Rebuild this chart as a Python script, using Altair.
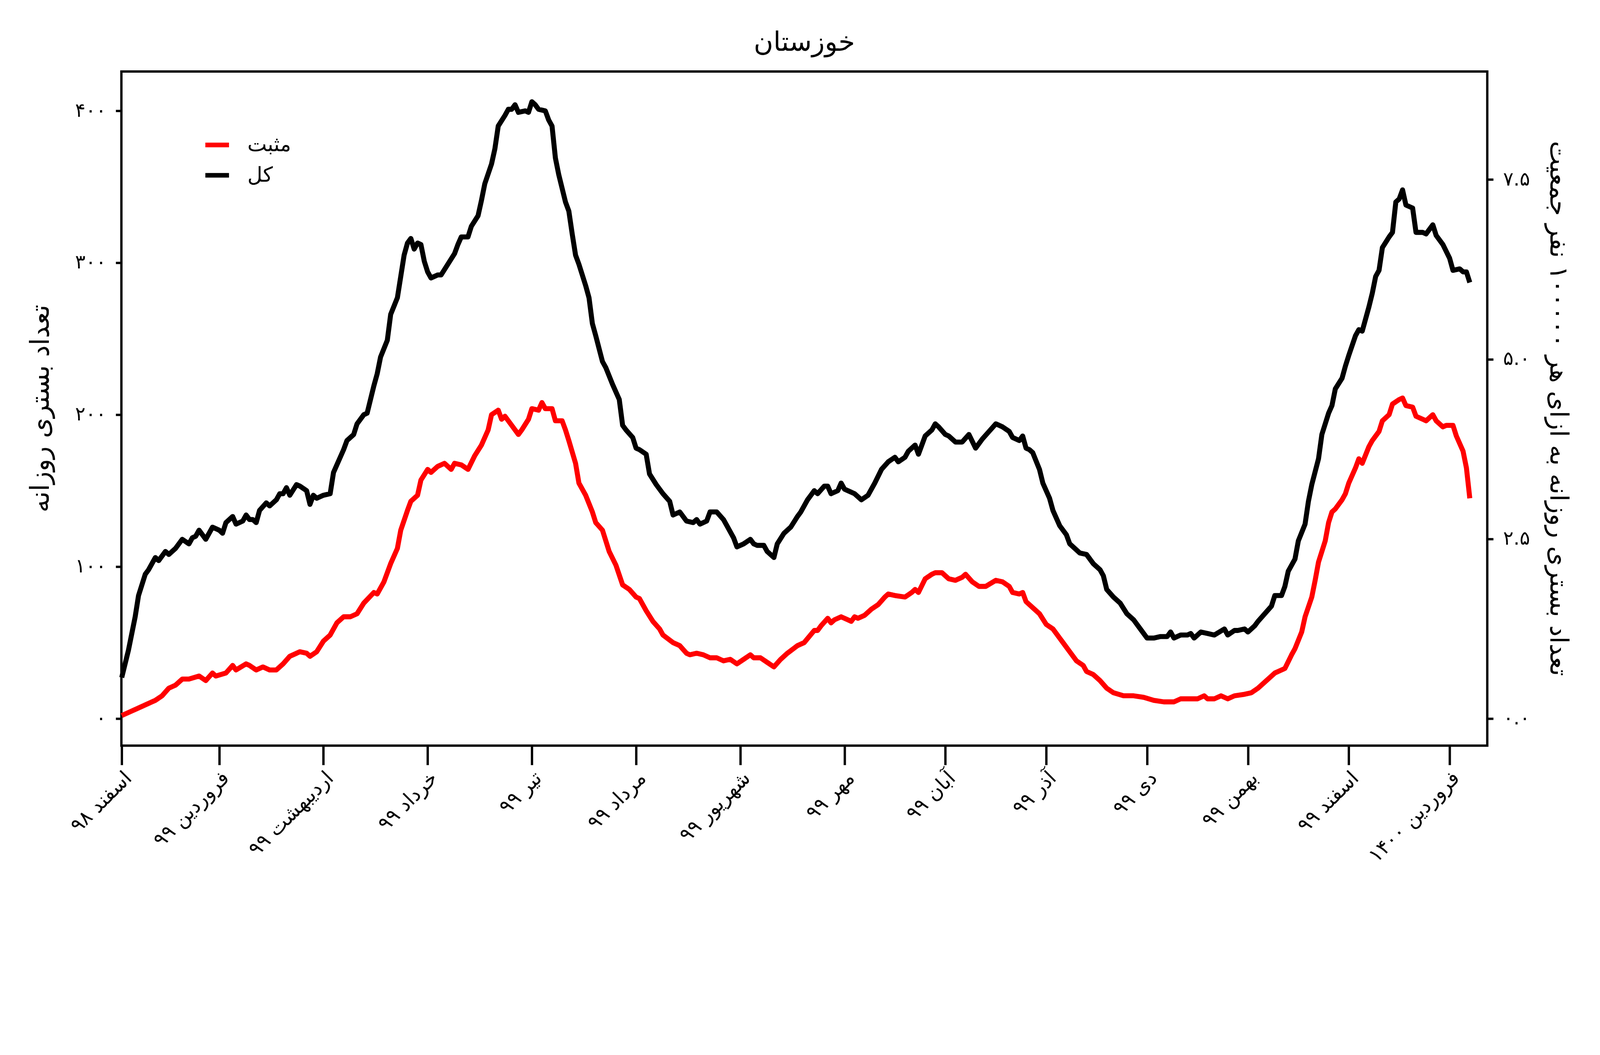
import altair as alt
import pandas as pd

title_text = "خوزستان"
series_names = ["مثبت", "کل"]
series_colors = ["#ff0000", "#000000"]
left_title = "تعداد بستری روزانه"
right_title = "تعداد بستری روزانه به ازای هر ۱۰۰۰۰۰ نفر جمعیت"

# month starts as day offsets from 1 Esfand 1398
month_days = [0, 29, 60, 91, 122, 153, 184, 215, 245, 275, 305, 335, 365, 395]
month_labels = ["اسفند ۹۸", "فروردین ۹۹", "اردیبهشت ۹۹", "خرداد ۹۹", "تیر ۹۹", "مرداد ۹۹",
                "شهریور ۹۹", "مهر ۹۹", "آبان ۹۹", "آذر ۹۹", "دی ۹۹", "بهمن ۹۹",
                "اسفند ۹۹", "فروردین ۱۴۰۰"]

left_ticks = [0, 100, 200, 300, 400]
left_tick_labels = ["۰", "۱۰۰", "۲۰۰", "۳۰۰", "۴۰۰"]
right_ticks = [0, 2.5, 5, 7.5]
right_tick_labels = ["۰.۰", "۲.۵", "۵.۰", "۷.۵"]
population_100k = 47.3

# total hospitalised (کل)
kol_days = [0, 2, 4, 5, 7, 8, 10, 11, 13, 14, 16, 18, 20, 21, 22, 23, 25, 27, 29, 30, 31, 33, 34, 36, 37, 38, 39, 40,
            41, 43, 44, 46, 47, 48, 49, 50, 52, 53, 55, 56, 57, 58, 60, 62, 63, 64, 66, 67, 69, 70, 72, 73, 75, 76,
            77, 79, 80, 82, 83, 84, 85, 86, 87, 88, 89, 90, 91, 92, 94, 95, 97, 99, 100, 101, 103, 104, 106, 107,
            108, 110, 111, 112, 114, 115, 116, 117, 118, 120, 121, 122, 123, 124, 126, 127, 128, 129, 130, 132,
            133, 134, 135, 136, 138, 139, 140, 141, 143, 144, 146, 148, 149, 150, 152, 153, 154, 156, 157, 159,
            161, 163, 164, 166, 168, 170, 171, 172, 174, 175, 177, 179, 180, 182, 183, 185, 187, 188, 189, 191,
            192, 194, 195, 197, 199, 201, 202, 204, 205, 206, 207, 209, 210, 211, 213, 214, 215, 217, 218, 220,
            222, 224, 226, 228, 230, 231, 233, 234, 236, 237, 239, 241, 242, 243, 245, 246, 248, 250, 252, 254,
            256, 258, 260, 262, 264, 265, 267, 268, 269, 270, 271, 273, 274, 276, 277, 279, 281, 282, 285, 287,
            289, 291, 292, 293, 295, 297, 299, 301, 303, 305, 307, 309, 311, 312, 313, 315, 317, 318, 319, 321,
            323, 325, 328, 329, 331, 332, 334, 335, 337, 338, 340, 342, 343, 345, 346, 347, 349, 350, 352, 353,
            354, 356, 357, 359, 360, 361, 363, 364, 365, 367, 368, 369, 371, 372, 373, 374, 375, 377, 378, 379,
            380, 381, 382, 384, 385, 387, 388, 390, 391, 393, 395, 396, 398, 399, 400, 401]
kol_vals = [27, 45, 67, 81, 95, 98, 106, 104, 110, 108, 112, 118, 115, 119, 120, 124, 118, 126, 124, 122, 129, 133,
            128, 130, 134, 131, 131, 129, 137, 142, 140, 144, 148, 148, 152, 147, 154, 153, 150, 141, 147, 145, 147,
            148, 162, 167, 177, 183, 187, 194, 200, 201, 219, 227, 238, 249, 266, 277, 291, 305, 313, 316, 309, 313,
            312, 301, 294, 290, 292, 292, 299, 306, 312, 317, 317, 324, 331, 341, 352, 365, 375, 390, 397, 401, 401,
            404, 399, 400, 399, 406, 404, 401, 400, 394, 390, 369, 358, 340, 334, 319, 305, 299, 285, 277, 260, 252,
            235, 231, 220, 210, 193, 190, 185, 178, 177, 174, 161, 154, 148, 143, 134, 136, 130, 129, 131, 128, 130,
            136, 136, 131, 127, 119, 113, 115, 118, 115, 114, 114, 110, 106, 115, 122, 126, 133, 136, 144, 147, 150,
            148, 153, 153, 148, 150, 155, 151, 149, 148, 144, 147, 155, 164, 169, 172, 169, 172, 176, 180, 174, 186,
            190, 194, 192, 187, 186, 182, 182, 187, 178, 184, 189, 194, 192, 189, 185, 183, 186, 178, 177, 175, 164,
            155, 145, 137, 127, 121, 115, 109, 108, 102, 98, 94, 85, 80, 76, 69, 65, 59, 53, 53, 54, 54, 57, 53, 55,
            55, 56, 53, 57, 56, 55, 59, 55, 58, 58, 59, 57, 61, 64, 69, 74, 81, 81, 87, 97, 105, 117, 128, 143, 154,
            171, 187, 201, 206, 217, 224, 232, 239, 252, 256, 255, 271, 280, 291, 295, 310, 317, 320, 340, 342, 348,
            338, 336, 320, 320, 319, 325, 318, 312, 303, 295, 296, 294, 294, 287]

# positive (مثبت)
pos_days = [0, 2, 5, 8, 10, 12, 14, 16, 18, 20, 23, 25, 27, 28, 31, 33, 34, 37, 38, 40, 42, 44, 46, 48, 50, 53, 55,
            56, 58, 60, 62, 64, 66, 68, 70, 72, 75, 76, 78, 80, 82, 83, 85, 86, 88, 89, 91, 92, 94, 96, 98, 99, 101,
            103, 105, 107, 109, 110, 112, 113, 114, 116, 118, 119, 121, 122, 124, 125, 126, 128, 129, 131, 132, 133,
            135, 136, 138, 140, 141, 143, 144, 145, 147, 149, 151, 153, 154, 156, 158, 160, 161, 164, 166, 168, 169,
            171, 173, 175, 177, 179, 181, 183, 185, 187, 188, 190, 192, 194, 196, 198, 201, 203, 206, 207, 208, 210,
            211, 212, 214, 217, 218, 219, 221, 223, 225, 227, 228, 230, 233, 235, 236, 237, 239, 241, 242, 244, 246,
            248, 250, 251, 253, 255, 257, 260, 262, 264, 265, 267, 268, 269, 271, 273, 275, 277, 279, 280, 282, 284,
            286, 287, 289, 291, 293, 295, 298, 301, 304, 307, 310, 313, 315, 317, 320, 322, 323, 325, 327, 329, 331,
            334, 336, 338, 341, 343, 346, 348, 349, 351, 352, 354, 355, 356, 358, 359, 360, 361, 363, 364, 365, 367,
            368, 369, 371, 372, 374, 375, 377, 378, 380, 381, 382, 384, 385, 387, 388, 390, 391, 393, 394, 396, 397,
            399, 400, 401]
pos_vals = [2, 4, 7, 10, 12, 15, 20, 22, 26, 26, 28, 25, 30, 28, 30, 35, 32, 36, 35, 32, 34, 32, 32, 36, 41, 44, 43,
            41, 44, 51, 55, 63, 67, 67, 69, 76, 83, 82, 90, 102, 112, 124, 137, 143, 147, 157, 164, 162, 166, 168, 164,
            168, 167, 164, 173, 180, 190, 200, 203, 197, 199, 193, 187, 190, 197, 204, 203, 208, 204, 204, 196, 196,
            190, 183, 168, 155, 147, 136, 129, 124, 117, 110, 101, 88, 85, 80, 79, 71, 64, 59, 55, 50, 48, 43, 42, 43,
            42, 40, 40, 38, 39, 36, 39, 42, 40, 40, 37, 34, 39, 43, 48, 50, 58, 58, 61, 66, 63, 65, 67, 64, 67, 66, 68,
            72, 75, 80, 82, 81, 80, 83, 85, 83, 92, 95, 96, 96, 92, 91, 93, 95, 90, 87, 87, 91, 90, 87, 83, 82, 83, 77,
            73, 69, 62, 59, 53, 50, 44, 38, 35, 31, 29, 25, 20, 17, 15, 15, 14, 12, 11, 11, 13, 13, 13, 15, 13, 13, 15,
            13, 15, 16, 17, 20, 26, 30, 33, 42, 46, 57, 67, 80, 91, 103, 117, 129, 136, 138, 144, 148, 155, 165, 171,
            168, 179, 183, 189, 196, 200, 207, 210, 211, 206, 205, 199, 197, 196, 200, 196, 192, 193, 193, 186, 176,
            165, 145]

df_pos = pd.DataFrame({"day": pos_days, "value": pos_vals, "series": series_names[0]})
df_kol = pd.DataFrame({"day": kol_days, "value": kol_vals, "series": series_names[1]})
df = pd.concat([df_pos, df_kol], ignore_index=True)
df_kol["per100k"] = df_kol["value"] / population_100k

FONT = "DejaVu Sans"


def label_expr(values, labels):
    arr_l = "[" + ",".join("'" + s + "'" for s in labels) + "]"
    arr_v = "[" + ",".join(str(v) for v in values) + "]"
    return arr_l + "[indexof(" + arr_v + ", datum.value)]"


x_enc = alt.X(
    "day:Q",
    scale=alt.Scale(domain=[-0.1, 406.2], nice=False, zero=False),
    axis=alt.Axis(
        values=month_days, labelExpr=label_expr(month_days, month_labels), title=None,
        grid=False, domain=False, labelAngle=315, labelAlign="right", labelBaseline="middle",
        labelFontSize=60, labelFont=FONT, labelColor="black", labelPadding=30, labelOffset=20,
        labelOverlap=False, labelFlush=False, labelBound=False, labelLimit=0,
        tickSize=58, tickWidth=7, tickColor="black",
    ),
)

lines = alt.Chart(df).mark_line(strokeWidth=15, strokeJoin="round").encode(
    x=x_enc,
    y=alt.Y(
        "value:Q",
        scale=alt.Scale(domain=[-17.8, 425.9], nice=False, zero=False),
        axis=alt.Axis(
            values=left_ticks, labelExpr=label_expr(left_ticks, left_tick_labels),
            title=left_title, orient="left", grid=False, domain=False,
            labelFontSize=58, labelFont=FONT, labelColor="black", labelPadding=29,
            tickSize=17, tickWidth=7, tickColor="black",
            titleFont=FONT, titleFontSize=78, titleFontWeight="normal", titleColor="black",
            titleAngle=270, titleX=-241, titleY=1011, titleAlign="center", titleBaseline="middle",
            titleLimit=0,
        ),
    ),
    color=alt.Color(
        "series:N",
        scale=alt.Scale(domain=series_names, range=series_colors),
        legend=alt.Legend(
            title=None, orient="none", legendX=245, legendY=178, symbolType="stroke",
            symbolSize=5041, symbolStrokeWidth=14, labelFontSize=62, labelFont=FONT,
            labelColor="black", rowPadding=17, labelOffset=48, padding=0,
        ),
    ),
    detail="series:N",
)

right = alt.Chart(df_kol).mark_line(opacity=0).encode(
    x=x_enc,
    y=alt.Y(
        "per100k:Q",
        scale=alt.Scale(domain=[-17.8 / population_100k, 425.9 / population_100k], nice=False, zero=False),
        axis=alt.Axis(
            values=right_ticks, labelExpr=label_expr(right_ticks, right_tick_labels),
            title=right_title, orient="right", grid=False, domain=False,
            labelFontSize=58, labelFont=FONT, labelColor="black", labelPadding=29,
            tickSize=18, tickWidth=7, tickColor="black",
            titleFont=FONT, titleFontSize=76, titleFontWeight="normal", titleColor="black",
            titleAngle=90, titleX=212, titleY=1011, titleAlign="center", titleBaseline="middle",
            titleLimit=0,
        ),
    ),
)

chart = alt.layer(lines, right).resolve_scale(y="independent").properties(
    width=4100,
    height=2023,
    title=alt.Title(text=title_text, fontSize=80, font=FONT, fontWeight="normal", color="black",
                    anchor="middle", baseline="alphabetic", offset=-18, frame="group"),
    autosize=alt.AutoSizeParams(type="none"),
    padding={"left": 355, "top": -9, "right": 329, "bottom": 468},
).configure(
    background="white",
    view=alt.ViewConfig(stroke="black", strokeWidth=7),
)

chart.save("out.html", embed_options={"renderer": "svg", "actions": False})
